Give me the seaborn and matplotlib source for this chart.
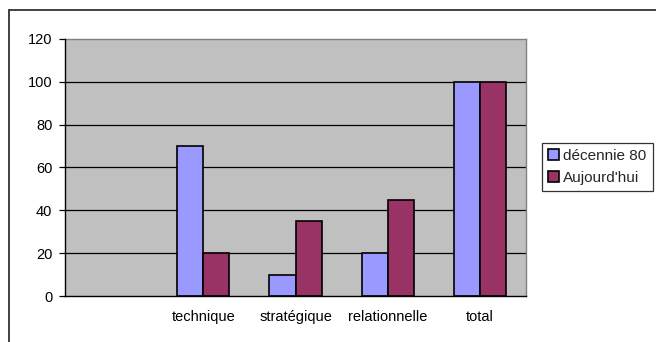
import matplotlib
matplotlib.use("Agg")
import matplotlib.pyplot as plt
from matplotlib.lines import Line2D
from matplotlib.patches import Patch
from matplotlib.ticker import FixedLocator
import seaborn as sns
import pandas as pd

categories = ["", "technique", "stratégique", "relationnelle", "total"]
series_names = ["décennie 80", "Aujourd'hui"]
decennie_80 = [None, 70, 10, 20, 100]
aujourdhui = [None, 20, 35, 45, 100]
y_ticks = [0, 20, 40, 60, 80, 100, 120]
colors = ["#9999FF", "#993366"]

rows = []
for cat, a, b in zip(categories, decennie_80, aujourdhui):
    if a is not None:
        rows.append({"cat": cat, "serie": series_names[0], "val": a})
    if b is not None:
        rows.append({"cat": cat, "serie": series_names[1], "val": b})
df = pd.DataFrame(rows)

sns.set_style("white")
plt.rcParams["font.family"] = ["Liberation Sans", "DejaVu Sans"]
plt.rcParams["font.size"] = 10.5

fig = plt.figure(figsize=(6.56, 3.42), dpi=100)
ax = fig.add_axes([65 / 656, 1 - 296 / 342, (526 - 65) / 656, (296 - 39) / 342])
ax.set_facecolor("#C0C0C0")

sns.barplot(data=df, x="cat", y="val", hue="serie", order=categories,
            hue_order=series_names, palette=colors, width=0.565, gap=0,
            edgecolor="black", linewidth=1.2, saturation=1, ax=ax,
            legend=False, zorder=3)

ax.set_ylim(0, 120)
ax.set_xlim(-0.5, len(categories) - 0.5)
ax.set_yticks(y_ticks)
ax.set_yticklabels([str(v) for v in y_ticks])
for v in y_ticks[1:-1]:
    ax.axhline(v, color="black", linewidth=0.9, zorder=1)

ax.set_xticks(range(len(categories)))
ax.set_xticklabels(categories)
ax.xaxis.set_minor_locator(FixedLocator([i - 0.5 for i in range(len(categories) + 1)]))
ax.tick_params(axis="x", which="major", length=0, pad=10, labelsize=10.5, colors="black")
ax.tick_params(axis="x", which="minor", length=4, width=0.9, color="black", direction="out")
ax.tick_params(axis="y", which="major", length=4, width=0.9, direction="out",
               pad=5, labelsize=10.5, colors="black", left=True)
ax.set_xlabel("")
ax.set_ylabel("")

for side in ["top", "right"]:
    ax.spines[side].set_visible(True)
    ax.spines[side].set_color("#808080")
    ax.spines[side].set_linewidth(1.0)
for side in ["left", "bottom"]:
    ax.spines[side].set_visible(True)
    ax.spines[side].set_color("black")
    ax.spines[side].set_linewidth(1.0)
    ax.spines[side].set_zorder(4)

handles = [Patch(facecolor=c, edgecolor="black", linewidth=1.2) for c in colors]
leg = fig.legend(handles, series_names, loc="upper left",
                 bbox_to_anchor=(542 / 656, 1 - 143 / 342),
                 frameon=True, fancybox=False, edgecolor="black",
                 borderpad=0.4, handlelength=0.7, handleheight=0.7,
                 handletextpad=0.3, labelspacing=0.5, borderaxespad=0,
                 fontsize=11)
leg.get_frame().set_linewidth(0.9)

# outer chart frame (top and left edges)
fig.add_artist(Line2D([9 / 656, 1.0], [1 - 10 / 342, 1 - 10 / 342],
                      transform=fig.transFigure, color="#333333", linewidth=1.3))
fig.add_artist(Line2D([9 / 656, 9 / 656], [0.0, 1 - 10 / 342],
                      transform=fig.transFigure, color="#333333", linewidth=1.3))

fig.savefig("out.png", dpi=100, facecolor="white")
